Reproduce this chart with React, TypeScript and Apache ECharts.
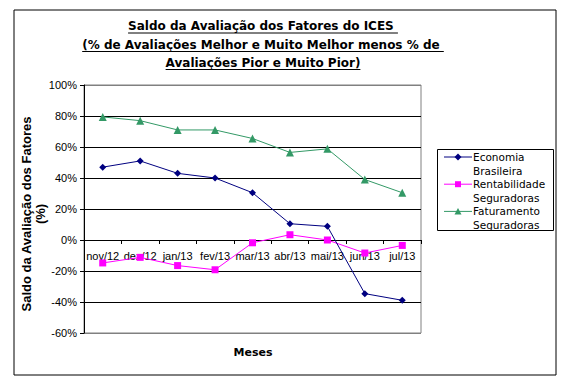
import React, { useEffect, useRef } from "react";
import * as echarts from "echarts";

const categories = ["nov/12", "dez/12", "jan/13", "fev/13", "mar/13", "abr/13", "mai/13", "jun/13", "jul/13"];
const economiaBrasileira = [47, 51, 43, 40, 30.5, 10.5, 8.8, -34.6, -38.9];
const rentabilidadeSeguradoras = [-14.8, -11.2, -16.5, -19.2, -1.8, 3.4, 0, -8.4, -3.5];
const faturamentoSeguradoras = [79.4, 77, 71, 71, 65.5, 56.5, 58.8, 39, 30.5];
const yTicks = { min: -60, max: 100, interval: 20 };
const titleLines = [
  "Saldo da Avaliação dos Fatores do ICES ",
  "(% de Avaliações Melhor e Muito Melhor menos % de ",
  "Avaliações Pior e Muito Pior)",
];
const seriesNames = [["Economia", "Brasileira"], ["Rentabilidade", "Seguradoras"], ["Faturamento", "Seguradoras"]];
const seriesColors = ["#000080", "#FF00FF", "#339966"];

function measure(text: string, font: string): number {
  const c = document.createElement("canvas").getContext("2d");
  if (!c) return text.length * 7;
  c.font = font;
  return c.measureText(text).width;
}

export default function App() {
  const ref = useRef<HTMLDivElement>(null);
  useEffect(() => {
    document.body.style.margin = "0";
    if (!ref.current) return;
    const chart = echarts.init(ref.current, undefined, { renderer: "svg" });

    const gridTop = 85;
    const gridBottom = 49;
    const gridHeight = 382 - gridTop - gridBottom;
    const zeroOffset = -(gridHeight * (0 - yTicks.min)) / (yTicks.max - yTicks.min);

    const titleFont = 'bold 12px "DejaVu Sans"';
    const titleCx = 263;
    const titleYs = [26, 44.5, 62.5];
    const graphics: any[] = [];
    graphics.push({
      type: "rect",
      shape: { x: 14, y: 10, width: 542, height: 365 },
      style: { fill: "none", stroke: "#000", lineWidth: 1 },
      silent: true,
      z: -1,
    });
    titleLines.forEach((t, i) => {
      const w = measure(t, titleFont);
      graphics.push({
        type: "text",
        x: titleCx,
        y: titleYs[i],
        style: {
          text: t,
          font: titleFont,
          fill: "#000",
          align: "center",
          verticalAlign: "middle",
        },
      });
      graphics.push({
        type: "line",
        shape: { x1: titleCx - w / 2, y1: titleYs[i] + 7, x2: titleCx + w / 2, y2: titleYs[i] + 7 },
        style: { stroke: "#000", lineWidth: 1 },
      });
    });
    graphics.push({
      type: "text",
      x: 253,
      y: 352,
      style: {
        text: "Meses",
        font: 'bold 11px "DejaVu Sans"',
        fill: "#000",
        align: "center",
        verticalAlign: "middle",
      },
    });
    // legend
    graphics.push({
      type: "rect",
      shape: { x: 437.5, y: 149.5, width: 116, height: 81 },
      style: { fill: "#fff", stroke: "#000", lineWidth: 1 },
    });
    const legFont = '10.5px "DejaVu Sans"';
    seriesNames.forEach((nm, i) => {
      const y0 = 157 + i * 27.2;
      const col = seriesColors[i];
      graphics.push({
        type: "line",
        shape: { x1: 444, y1: y0, x2: 472, y2: y0 },
        style: { stroke: col, lineWidth: 1 },
      });
      if (i === 0) {
        graphics.push({
          type: "polygon",
          shape: { points: [[458, y0 - 3.5], [461.5, y0], [458, y0 + 3.5], [454.5, y0]] },
          style: { fill: col },
        });
      } else if (i === 1) {
        graphics.push({ type: "rect", shape: { x: 455, y: y0 - 3, width: 6, height: 6 }, style: { fill: col } });
      } else {
        graphics.push({
          type: "polygon",
          shape: { points: [[458, y0 - 3.5], [461.5, y0 + 3], [454.5, y0 + 3]] },
          style: { fill: col },
        });
      }
      nm.forEach((line, j) => {
        graphics.push({
          type: "text",
          x: 473,
          y: y0 + j * 13.8,
          style: { text: line, font: legFont, fill: "#000", align: "left", verticalAlign: "middle" },
        });
      });
    });

    const gridLineColors = ["#808080", "#000", "#000", "#000", "#000", "#000", "#000", "#000", "#808080"];

    chart.setOption({
      animation: false,
      backgroundColor: "#fff",
      grid: {
        left: 84,
        right: 148,
        top: gridTop,
        bottom: gridBottom,
        show: true,
        borderColor: "#808080",
        borderWidth: 1,
        containLabel: false,
      },
      xAxis: {
        type: "category",
        data: categories,
        position: "bottom",
        offset: zeroOffset,
        boundaryGap: true,
        axisLine: { show: true, onZero: false, lineStyle: { color: "#000", width: 1 } },
        axisTick: { show: true, inside: false, length: 4, interval: 0, lineStyle: { color: "#000" } },
        axisLabel: {
          interval: 0,
          color: "#000",
          fontFamily: '"Liberation Sans", Arial',
          fontSize: 11,
          margin: 10,
        },
        splitLine: { show: false },
        z: 3,
      },
      yAxis: {
        type: "value",
        min: yTicks.min,
        max: yTicks.max,
        interval: yTicks.interval,
        name: "Saldo da Avaliação dos Fatores\n(%)",
        nameLocation: "middle",
        nameRotate: 90,
        nameGap: 37,
        nameMoveOverlap: false,
        nameTextStyle: {
          fontFamily: '"Liberation Sans", Arial',
          fontWeight: "bold",
          fontSize: 13,
          color: "#000",
          lineHeight: 14,
          padding: [0, 10, 0, 0],
        },
        axisLine: { show: true, lineStyle: { color: "#000", width: 1 } },
        axisTick: { show: true, inside: false, length: 4, lineStyle: { color: "#000" } },
        axisLabel: {
          color: "#000",
          fontFamily: '"Liberation Sans", Arial',
          fontSize: 11,
          margin: 7,
          formatter: (v: number) => `${v}%`,
        },
        splitLine: { show: true, lineStyle: { color: gridLineColors, width: 1 } },
      },
      series: [
        {
          name: "Economia Brasileira",
          type: "line",
          data: economiaBrasileira,
          symbol: "diamond",
          symbolSize: 7,
          color: seriesColors[0],
          lineStyle: { width: 1, color: seriesColors[0] },
          itemStyle: { color: seriesColors[0] },
          z: 5,
        },
        {
          name: "Rentabilidade Seguradoras",
          type: "line",
          data: rentabilidadeSeguradoras,
          symbol: "rect",
          symbolSize: 7,
          color: seriesColors[1],
          lineStyle: { width: 1, color: seriesColors[1] },
          itemStyle: { color: seriesColors[1] },
          z: 4,
        },
        {
          name: "Faturamento Seguradoras",
          type: "line",
          data: faturamentoSeguradoras,
          symbol: "triangle",
          symbolSize: 8,
          color: seriesColors[2],
          lineStyle: { width: 1, color: seriesColors[2] },
          itemStyle: { color: seriesColors[2] },
          z: 4,
        },
      ],
      graphic: graphics,
    });
    return () => chart.dispose();
  }, []);
  return <div ref={ref} style={{ width: 569, height: 382 }} />;
}
